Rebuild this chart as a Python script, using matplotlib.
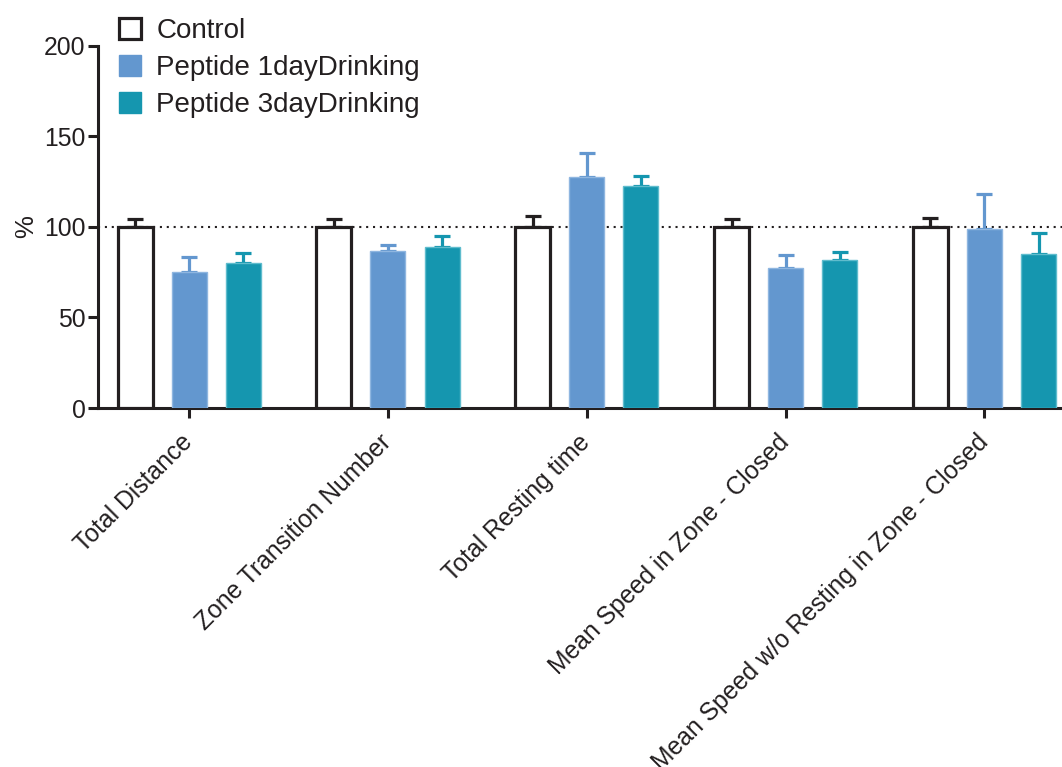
import matplotlib
matplotlib.use("Agg")
import matplotlib.pyplot as plt
from matplotlib.patches import Patch
import numpy as np

plt.rcParams['font.family'] = ['Liberation Sans', 'DejaVu Sans']

categories = ["Total Distance", "Zone Transition Number", "Total Resting time",
              "Mean Speed in Zone - Closed", "Mean Speed w/o Resting in Zone - Closed"]
series_names = ["Control", "Peptide 1dayDrinking", "Peptide 3dayDrinking"]
control = [100, 100, 100, 100, 100]
control_err = [4.6, 4.2, 6.2, 4.1, 5.1]
peptide_1day = [75.3, 86.6, 127.8, 77.2, 99.1]
peptide_1day_err = [7.8, 3.6, 13.2, 7.4, 19.3]
peptide_3day = [80.0, 88.8, 122.6, 81.6, 85.3]
peptide_3day_err = [5.8, 6.0, 5.7, 4.4, 11.2]
yticks = [0, 50, 100, 150, 200]

BLACK = "#231f20"
C1 = "#6397cf"
C3 = "#1596af"

fig = plt.figure(figsize=(10.62, 7.67), dpi=100)
ax = fig.add_axes([0.0923, 0.468, 0.9077, 0.4724])

x = np.arange(len(categories))
off = 0.272
w = 0.176

# reference level at 100 %
ax.axhline(100, color=BLACK, lw=1.5, linestyle=(0, (1, 2.3)), zorder=1)

specs = [
    (control, control_err, "white", BLACK, 2.3, -off, BLACK),
    (peptide_1day, peptide_1day_err, C1, "#8fb6e0", 1.0, 0, C1),
    (peptide_3day, peptide_3day_err, C3, "#5fbccd", 1.0, off, C3),
]
for vals, errs, fc, ec, elw, dx, errc in specs:
    ax.errorbar(x + dx, vals, yerr=[np.zeros(len(vals)), errs], fmt="none",
                ecolor=errc, elinewidth=2.3, capsize=5.8, capthick=2.3, zorder=2)
    ax.bar(x + dx, vals, width=w, color=fc, edgecolor=ec, linewidth=elw, zorder=3)

ax.set_xlim(-0.458, 4.39)
ax.set_ylim(0, 200)
ax.set_yticks(yticks)
ax.set_xticks(x)
ax.set_xticklabels(categories, rotation=45, ha="right", va="center",
                   rotation_mode="anchor")
ax.tick_params(axis="both", labelsize=17.8, colors=BLACK, width=2.2, length=7,
               labelcolor=BLACK)
ax.tick_params(axis="x", pad=15)
ax.tick_params(axis="y", pad=2)
for s in ["top", "right"]:
    ax.spines[s].set_visible(False)
for s in ["left", "bottom"]:
    ax.spines[s].set_linewidth(2.2)
    ax.spines[s].set_color(BLACK)
ax.set_ylabel("%", fontsize=18.5, color=BLACK, labelpad=4)

handles = [
    Patch(facecolor="white", edgecolor=BLACK, linewidth=2.3),
    Patch(facecolor=C1, edgecolor=C1),
    Patch(facecolor=C3, edgecolor=C3),
]
fig.legend(handles, series_names, loc="upper left", bbox_to_anchor=(0.095, 1.0),
           frameon=False, fontsize=20, handlelength=0.8, handleheight=0.8,
           handletextpad=0.55, labelspacing=0.38, borderpad=0.35,
           borderaxespad=0.3, labelcolor=BLACK)

fig.savefig("out.png", dpi=100)
